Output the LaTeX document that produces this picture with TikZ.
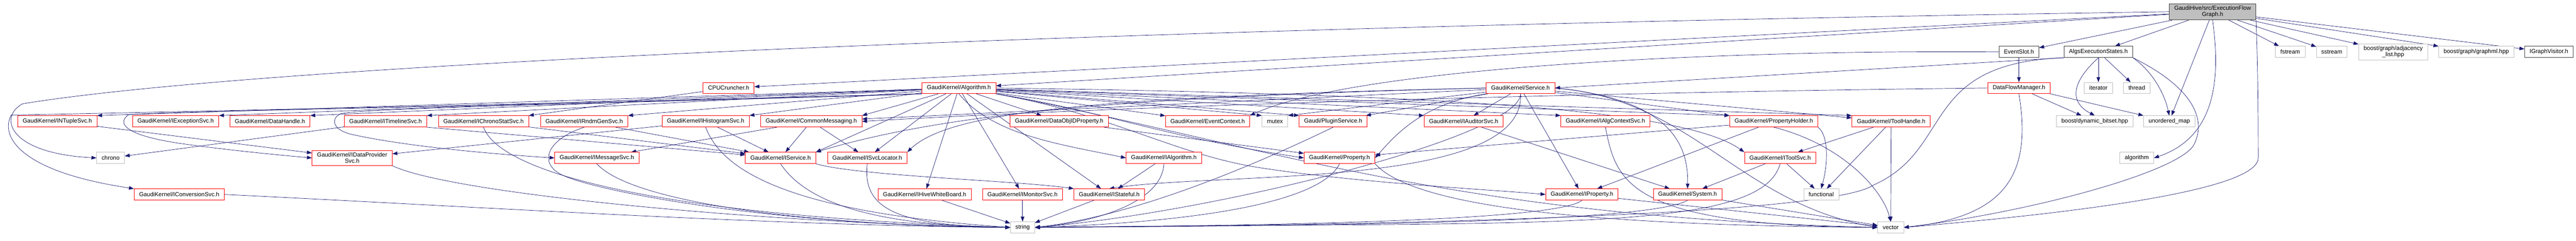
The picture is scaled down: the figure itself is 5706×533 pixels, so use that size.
\documentclass[tikz,border=0pt]{standalone}
\usepackage{fontspec}
\setmainfont{Liberation Sans}
\usetikzlibrary{arrows.meta,backgrounds}
\definecolor{edgeblue}{HTML}{191970}
\definecolor{boxgrey}{HTML}{BFBFBF}
\definecolor{boxdark}{HTML}{404040}
\tikzset{
  box/.style={rectangle, fill=white, font=\fontsize{13}{14}\selectfont, inner xsep=11pt, inner ysep=5pt, minimum height=25pt, align=center, line width=0.9pt},
  redbox/.style={box, draw=red},
  greybox/.style={box, draw=boxgrey},
  darkbox/.style={box, draw=boxdark},
  rootbox/.style={box, draw=boxdark, fill=boxgrey},
  incl/.style={draw=edgeblue, line width=0.8pt, -{Triangle[length=11pt,width=8pt]}}
}
\begin{document}
\begin{tikzpicture}[x=1pt,y=-1pt]
  \useasboundingbox (0,0) rectangle (5706,533);
  \node[rootbox] (efg) at (4901,26) {GaudiHive/src/ExecutionFlow\\Graph.h};
  \node[darkbox] (eventslot) at (4472,115) {EventSlot.h};
  \node[darkbox] (algsexec) at (4648,115) {AlgsExecutionStates.h};
  \node[greybox] (fstream) at (5073,115) {fstream};
  \node[greybox] (sstream) at (5165,115) {sstream};
  \node[greybox] (adjlist) at (5301,115) {boost/graph/adjacency\\\_list.hpp};
  \node[greybox] (graphml) at (5485,115) {boost/graph/graphml.hpp};
  \node[darkbox] (igraphvisitor) at (5646,115) {IGraphVisitor.h};
  \node[redbox] (cpucruncher) at (1614,195) {CPUCruncher.h};
  \node[redbox] (algorithm) at (2124,195) {GaudiKernel/Algorithm.h};
  \node[redbox] (service) at (3368,195) {GaudiKernel/Service.h};
  \node[redbox] (dataflow) at (4472,195) {DataFlowManager.h};
  \node[greybox] (iterator) at (4648,195) {iterator};
  \node[greybox] (thread) at (4733,195) {thread};
  \node[redbox] (intuple) at (127,269) {GaudiKernel/INTupleSvc.h};
  \node[redbox] (iexception) at (389,269) {GaudiKernel/IExceptionSvc.h};
  \node[redbox] (datahandle) at (598,269) {GaudiKernel/DataHandle.h};
  \node[redbox] (itimeline) at (854,269) {GaudiKernel/ITimelineSvc.h};
  \node[redbox] (ichrono) at (1071,269) {GaudiKernel/IChronoStatSvc.h};
  \node[redbox] (irndm) at (1294,269) {GaudiKernel/IRndmGenSvc.h};
  \node[redbox] (ihisto) at (1563,269) {GaudiKernel/IHistogramSvc.h};
  \node[redbox] (commonmsg) at (1797,269) {GaudiKernel/CommonMessaging.h};
  \node[redbox] (dataobjid) at (2346,269) {GaudiKernel/DataObjIDProperty.h};
  \node[redbox] (eventcontext) at (2675,269) {GaudiKernel/EventContext.h};
  \node[greybox] (mutex) at (2824,269) {mutex};
  \node[redbox] (pluginsvc) at (2953,269) {Gaudi/PluginService.h};
  \node[redbox] (iauditor) at (3242,269) {GaudiKernel/IAuditorSvc.h};
  \node[redbox] (ialgctx) at (3556,269) {GaudiKernel/IAlgContextSvc.h};
  \node[redbox] (propholder) at (3929,269) {GaudiKernel/PropertyHolder.h};
  \node[redbox] (toolhandle) at (4189,269) {GaudiKernel/ToolHandle.h};
  \node[greybox] (dynbitset) at (4640,269) {boost/dynamic\_bitset.hpp};
  \node[greybox] (unorderedmap) at (4805,269) {unordered\_map};
  \node[greybox] (chrono) at (245,350) {chrono};
  \node[redbox] (idataprov) at (780,350) {GaudiKernel/IDataProvider\\Svc.h};
  \node[redbox] (imsg) at (1322,350) {GaudiKernel/IMessageSvc.h};
  \node[redbox] (iservice) at (1729,350) {GaudiKernel/IService.h};
  \node[redbox] (isvcloc) at (1921,350) {GaudiKernel/ISvcLocator.h};
  \node[redbox] (ialgorithm) at (2578,350) {GaudiKernel/IAlgorithm.h};
  \node[redbox] (property) at (2967,350) {GaudiKernel/Property.h};
  \node[redbox] (itoolsvc) at (3943,350) {GaudiKernel/IToolSvc.h};
  \node[greybox] (stdalgorithm) at (4733,350) {algorithm};
  \node[redbox] (iconversion) at (397,431) {GaudiKernel/IConversionSvc.h};
  \node[redbox] (ihive) at (2048,431) {GaudiKernel/IHiveWhiteBoard.h};
  \node[redbox] (imonitor) at (2265,431) {GaudiKernel/IMonitorSvc.h};
  \node[redbox] (istateful) at (2457,431) {GaudiKernel/IStateful.h};
  \node[redbox] (iproperty) at (3504,431) {GaudiKernel/IProperty.h};
  \node[redbox] (system) at (3738,431) {GaudiKernel/System.h};
  \node[greybox] (functional) at (4034,431) {functional};
  \node[greybox] (string) at (2265,504) {string};
  \node[greybox] (vector) at (4188,504) {vector};
  \begin{scope}[on background layer]
    \foreach \a/\b in {efg/eventslot, efg/algsexec, efg/fstream, efg/sstream, efg/adjlist, efg/graphml, efg/igraphvisitor, efg/unorderedmap, efg/cpucruncher, efg/algorithm,
      eventslot/dataflow, algsexec/iterator, algsexec/thread, algsexec.south west/service.east, dataflow/dynbitset, dataflow.south east/unorderedmap.north west,
      cpucruncher/ichrono.north east, algorithm/intuple.north east, algorithm/iexception.north east, algorithm/datahandle.north east, algorithm/itimeline.north east,
      algorithm/irndm.north east, algorithm/ihisto.north east, algorithm/commonmsg.north east, algorithm/dataobjid, algorithm/eventcontext, algorithm/mutex.north west,
      algorithm/pluginsvc.north west, algorithm/iauditor.north west, algorithm/ialgctx.north west, algorithm/propholder.north west, algorithm/toolhandle.north west,
      algorithm/iservice.north east, algorithm/isvcloc, algorithm/ihive, algorithm/imonitor, algorithm/istateful,
      service/mutex.north east, service/pluginsvc, service/iauditor, service/propholder, service/toolhandle, service/iproperty, service/commonmsg,
      commonmsg/iservice, commonmsg/isvcloc, commonmsg/imsg, ihisto/iservice, ihisto/idataprov, ichrono/iservice, irndm/iservice, itimeline.south east/iservice,
      itimeline/chrono, intuple/idataprov, ialgorithm/istateful, dataobjid/property, propholder/property, propholder/iproperty, toolhandle/itoolsvc,
      toolhandle/functional, toolhandle/vector, itoolsvc/system, itoolsvc/functional, iauditor/system, ihive/string, imonitor/string, istateful/string,
      iproperty/vector, system/vector}
      \draw[incl] (\a) -- (\b);
    \draw[incl] (efg.west) .. controls (2500,60) and (600,140) .. (50,230) .. controls (-5,260) and (20,340) .. (chrono.west);
    \draw[incl] (efg.south) .. controls (4915,150) and (4920,300) .. (stdalgorithm.east);
    \draw[incl] (efg.south east) .. controls (5000,120) and (5002,200) .. (5002,350) .. controls (5002,430) and (4500,480) .. (vector.east);
    \draw[incl] (algsexec.south) .. controls (4580,190) and (4590,230) .. (dynbitset.north);
    \draw[incl] (algsexec.south east) .. controls (4770,160) and (4795,210) .. (unorderedmap.north);
    \draw[incl] (algsexec.south east) .. controls (4850,190) and (4890,260) .. (4860,320) .. controls (4830,380) and (4500,470) .. (vector.east);
    \draw[incl] (algsexec.south west) .. controls (4250,140) and (4330,330) .. (4150,410) .. controls (4050,480) and (3000,500) .. (string.east);
    \draw[incl] (dataflow.south) .. controls (4500,380) and (4450,480) .. (vector.east);
    \draw[incl] (dataflow.west) .. controls (3500,205) and (2500,235) .. (commonmsg.east);
    \draw[incl] (eventslot.west) .. controls (3800,110) and (3000,150) .. (eventcontext.north east);
    \draw[incl] (algorithm.south west) .. controls (1200,230) and (300,250) .. (25,255) .. controls (0,300) and (40,380) .. (iconversion.north west);
    \draw[incl] (algorithm.south west) .. controls (1200,235) and (400,245) .. (285,254) .. controls (262,270) and (265,298) .. (400,318) .. controls (500,332) and (600,342) .. (idataprov.west);
    \draw[incl] (algorithm.south west) .. controls (1300,230) and (800,240) .. (755,252) .. controls (732,262) and (735,288) .. (780,298) .. controls (900,325) and (1100,342) .. (imsg.west);
    \draw[incl] (algorithm.south) .. controls (2200,300) and (2350,320) .. (ialgorithm.west);
    \draw[incl] (algorithm.east) .. controls (3300,210) and (3740,250) .. (itoolsvc.north west);
    \draw[incl] (algorithm.south east) .. controls (2450,250) and (2600,340) .. (2780,370) .. controls (3000,405) and (3300,420) .. (iproperty.west);
    \draw[incl] (algorithm.south east) .. controls (2440,245) and (2560,300) .. (property.west);
    \draw[incl] (algorithm.south east) .. controls (2800,320) and (3200,480) .. (vector.west);
    \draw[incl] (service.west) .. controls (2500,215) and (2100,250) .. (iservice.north east);
    \draw[incl] (service.west) .. controls (2400,215) and (2100,250) .. (isvcloc.north east);
    \draw[incl] (service.south) .. controls (3380,420) and (2700,380) .. (istateful.north);
    \draw[incl] (service.south west) .. controls (3150,230) and (3090,300) .. (property.east);
    \draw[incl] (service.east) .. controls (3700,220) and (3740,320) .. (system.north);
    \draw[incl] (service.south) .. controls (3370,300) and (2700,470) .. (string.east);
    \draw[incl] (service.east) .. controls (3750,220) and (3850,450) .. (vector.west);
    \draw[incl] (iservice.south east) .. controls (1900,390) and (2250,400) .. (istateful.north west);
    \draw[incl] (propholder.south) .. controls (4080,320) and (4170,420) .. (vector.north);
    \draw[incl] (propholder.south east) .. controls (4050,300) and (4050,360) .. (functional.north);
    \draw[incl] (ialgctx.south) .. controls (3580,400) and (3600,500) .. (vector.west);
    \draw[incl] (property.south east) .. controls (3150,480) and (3700,500) .. (vector.west);
    \draw[incl] (iconversion.east) .. controls (1000,455) and (1700,500) .. (string.west);
    \draw[incl] (idataprov.south east) .. controls (1000,430) and (1700,495) .. (string.west);
    \draw[incl] (imsg.south) .. controls (1400,450) and (1800,500) .. (string.west);
    \draw[incl] (ichrono.south) .. controls (1110,390) and (1500,480) .. (string.west);
    \draw[incl] (irndm.south) .. controls (1210,310) and (1195,360) .. (1240,385) .. controls (1300,420) and (1700,500) .. (string.west);
    \draw[incl] (ihisto.south) .. controls (1600,380) and (1750,470) .. (string.west);
    \draw[incl] (iservice.south) .. controls (1800,470) and (2000,500) .. (string.west);
    \draw[incl] (isvcloc.south) .. controls (1910,460) and (1980,500) .. (string.west);
    \draw[incl] (ialgorithm.south) .. controls (2575,440) and (2450,490) .. (string.east);
    \draw[incl] (property.south) .. controls (2930,440) and (2700,490) .. (string.east);
    \draw[incl] (pluginsvc.south) .. controls (2750,380) and (2500,480) .. (string.east);
    \draw[incl] (iproperty.south) .. controls (3450,490) and (2800,500) .. (string.east);
    \draw[incl] (system.south) .. controls (3650,495) and (2900,500) .. (string.east);
    \draw[incl] (itoolsvc.south) .. controls (3900,520) and (3400,490) .. (string.east);
  \end{scope}
\end{tikzpicture}
\end{document}
